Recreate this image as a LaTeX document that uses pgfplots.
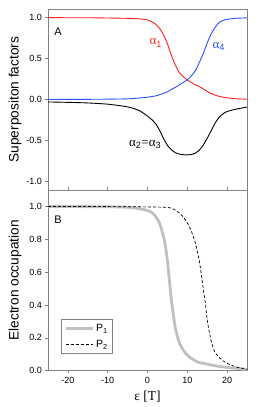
\documentclass[border=0pt]{standalone}
\usepackage{fontspec}
\setmainfont{Liberation Sans}
\newfontfamily\serif{Liberation Serif}
\usepackage{pgfplots}
\pgfplotsset{compat=1.18}
\definecolor{cred}{RGB}{255,30,30}
\definecolor{cblue}{RGB}{40,80,255}
\definecolor{cgray}{RGB}{192,192,192}
\definecolor{frame}{RGB}{128,128,128}
\begin{document}
\begin{tikzpicture}
\pgfplotsset{
  myaxis/.style={
    scale only axis, width=199pt, height=180.7pt,
    xmin=-25, xmax=25,
    axis line style={frame, line width=0.7pt},
    tick style={frame, line width=0.6pt},
    major tick length=2.5pt,
    xtick={-20,-10,0,10,20},
    xtick pos=bottom, ytick pos=left,
    ytick align=outside,
    tick label style={font=\fontsize{9}{10}\selectfont},
    ylabel style={font=\fontsize{13.7}{15}\selectfont, at={(axis description cs:-0.166,0.5)}, anchor=center},
    /pgf/number format/assume math mode=true,
  }
}
\path[use as bounding box] (-48pt,-36.3pt) rectangle (210pt,370.7pt);
% top panel
\begin{axis}[myaxis, at={(0pt,180.7pt)}, anchor=south west,
  ymin=-1.1, ymax=1.1,
  ytick={-1,-0.5,0,0.5,1}, yticklabels={-1.0,-0.5,0.0,0.5,1.0},
  xticklabels={}, xtick align=inside,
  ylabel={Superpositon factors}]
\addplot[cred, line width=0.9pt, smooth, tension=0.4] coordinates {
(-25,0.998) (-15,0.997) (-10,0.994) (-5,0.99) (-2,0.984) (0,0.97) (1,0.95) (2,0.92)
(3,0.87) (4,0.79) (5,0.68) (6,0.54) (7,0.42) (8,0.33) (9,0.28) (10,0.24) (11,0.21)
(12,0.18) (13,0.16) (14,0.13) (15,0.10) (16,0.075) (17,0.055) (18,0.04) (19,0.03)
(20,0.022) (22,0.012) (25,0.005)};
\addplot[cblue, line width=0.9pt, smooth, tension=0.4] coordinates {
(-25,0.002) (-15,0.004) (-10,0.006) (-5,0.01) (-2,0.02) (0,0.03) (2,0.045) (3,0.06)
(4,0.075) (5,0.095) (6,0.125) (7,0.15) (8,0.18) (9,0.21) (10,0.24) (11,0.29) (12,0.35)
(13,0.45) (14,0.56) (15,0.69) (16,0.80) (17,0.88) (18,0.94) (19,0.965) (20,0.978)
(22,0.99) (25,0.996)};
\addplot[black, line width=0.9pt, smooth, tension=0.4] coordinates {
(-25,-0.028) (-20,-0.033) (-15,-0.04) (-10,-0.055) (-6,-0.08) (-4,-0.10) (-2,-0.135)
(0,-0.2) (1,-0.24) (2,-0.29) (3,-0.37) (4,-0.47) (5,-0.555) (6,-0.61) (7,-0.645)
(8,-0.663) (9,-0.67) (10,-0.672) (11,-0.668) (12,-0.652) (13,-0.615) (14,-0.555)
(15,-0.47) (16,-0.38) (17,-0.285) (18,-0.215) (19,-0.172) (20,-0.145) (22,-0.118) (25,-0.09)};
\node[font=\fontsize{11}{12}\selectfont] at (rel axis cs:0.05,0.875) {A};
\node[cred, font=\fontsize{13}{14}\selectfont] at (axis cs:2.1,0.69) {{\serif α}\textsubscript{1}};
\node[cblue, font=\fontsize{13}{14}\selectfont] at (axis cs:17.9,0.65) {{\serif α}\textsubscript{4}};
\node[black, font=\fontsize{13}{14}\selectfont] at (axis cs:-0.6,-0.55) {{\serif α}\textsubscript{2}{\serif =α}\textsubscript{3}};
\end{axis}
% bottom panel
\begin{axis}[myaxis, at={(0pt,0pt)}, anchor=south west,
  ymin=0, ymax=1.1,
  ytick={0,0.2,0.4,0.6,0.8,1.0}, yticklabels={0.0,0.2,0.4,0.6,0.8,1.0},
  xticklabels={-20,-10,0,10,20}, xtick align=outside,
  ylabel={Electron occupation},
  xlabel={{\serif ε [T]}},
  xlabel style={font=\fontsize{13.5}{14}\selectfont, at={(axis description cs:0.5,0)}, anchor=center, yshift=-26pt},
  legend style={draw=frame, line width=0.8pt, at={(0.065,0.286)}, anchor=north west,
     font=\fontsize{10.5}{11}\selectfont, inner sep=3pt, row sep=3pt},
  legend cell align=left,
  legend image code/.code={\draw[#1] (0pt,0pt) -- (27pt,0pt);}]
\addplot[cgray, line width=2.8pt, smooth, tension=0.4] coordinates {
(-25,1.0) (-10,0.998) (-5,0.995) (-2,0.986) (0,0.975) (1,0.965) (2,0.94) (3,0.9)
(4,0.82) (4.5,0.76) (5,0.67) (5.5,0.55) (6,0.43) (6.5,0.34) (7,0.26) (7.5,0.21)
(8,0.17) (9,0.125) (10,0.095) (11,0.075) (12,0.06) (13,0.05) (15,0.04) (17,0.03)
(20,0.02) (25,0.008)};
\addlegendentry{P\textsubscript{1}}
\addplot[black, line width=0.7pt, dash pattern=on 3pt off 2pt, smooth, tension=0.4] coordinates {
(-25,1.0) (-10,0.999) (0,0.997) (4,0.995) (6,0.99) (8,0.96) (9,0.935) (10,0.9)
(11,0.85) (12,0.78) (13,0.67) (13.5,0.59) (14,0.5) (14.5,0.42) (15,0.31) (15.5,0.24)
(16,0.18) (16.5,0.14) (17,0.11) (18,0.08) (19,0.06) (20,0.045) (22,0.025) (25,0.008)};
\addlegendentry{P\textsubscript{2}}
\node[font=\fontsize{11}{12}\selectfont] at (rel axis cs:0.05,0.834) {B};
\end{axis}
\end{tikzpicture}
\end{document}
